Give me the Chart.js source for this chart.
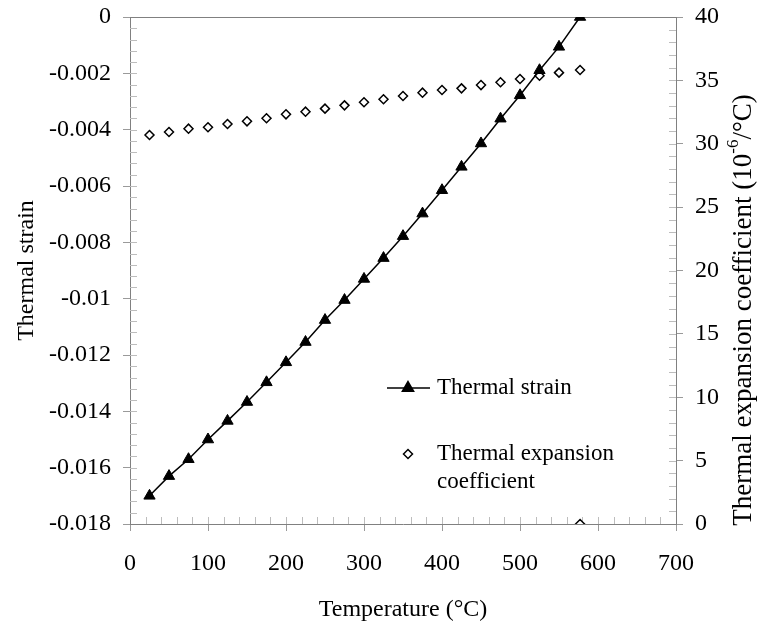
<!DOCTYPE html>
<html>
<head>
<meta charset="utf-8">
<script src="https://cdn.jsdelivr.net/npm/chart.js@4.4.1/dist/chart.umd.min.js"></script>
<style>
  html, body { margin: 0; padding: 0; background: #fff; }
  #wrap { position: relative; width: 761px; height: 628px; }
</style>
</head>
<body>
<div id="wrap"><canvas id="chart" width="761" height="628"></canvas></div>
<script>
// Temperatures (°C) at which strain and expansion coefficient are reported
const temperatures = [25, 50, 75, 100, 125, 150, 175, 200, 225, 250, 275, 300,
                      325, 350, 375, 400, 425, 450, 475, 500, 525, 550, 577];

// Thermal strain, referenced to zero at 577 °C
const thermalStrain = [-0.0170, -0.0163, -0.0157, -0.0150, -0.01434, -0.01367, -0.01297,
                       -0.01226, -0.01154, -0.01076, -0.01005, -0.00930, -0.00856, -0.00778,
                       -0.00698, -0.00615, -0.00532, -0.00449, -0.00361, -0.00278, -0.00189,
                       -0.00106, 0];

// Thermal expansion coefficient (10^-6 /°C)
const expansionCoef = [30.69, 30.93, 31.19, 31.30, 31.56, 31.77, 32.01, 32.32, 32.53, 32.77,
                       33.03, 33.27, 33.51, 33.77, 34.03, 34.24, 34.37, 34.63, 34.85, 35.11,
                       35.37, 35.61, 35.82];

// Coefficient point lying on the axis at the solidus temperature
const solidusTemp = [577];
const solidusCoef = [0];

// Tick values for the three axes
const tempTicks = [0, 100, 200, 300, 400, 500, 600, 700];
const strainTicks = [-0.018, -0.016, -0.014, -0.012, -0.01, -0.008, -0.006, -0.004, -0.002, 0];
const coefTicks = [0, 5, 10, 15, 20, 25, 30, 35, 40];

const seriesNames = ['Thermal strain', 'Thermal expansion coefficient'];

const SERIF = '"Liberation Serif", "Times New Roman", serif';
const AXIS_COLOR = '#808080';
const MAJOR_TICK = '#9a9a9a';
const MINOR_TICK = '#bdbdbd';

const strainPoints = temperatures.map((t, i) => ({ x: t, y: thermalStrain[i] }));
const coefPoints = temperatures.map((t, i) => ({ x: t, y: expansionCoef[i] }))
  .concat(solidusTemp.map((t, i) => ({ x: t, y: solidusCoef[i] })));

function fixedTicks(values) {
  return scale => { scale.ticks = values.map(v => ({ value: v })); };
}

function fmt(v) {
  const s = String(parseFloat(Number(v).toFixed(4)));
  return s === '-0' ? '0' : s;
}

// keep the plot box fixed: fixed scale thickness, no label overflow padding
function fitTo(size) {
  return s => {
    if (s.isHorizontal()) s.height = size; else s.width = size;
    s.paddingTop = 0; s.paddingBottom = 0; s.paddingLeft = 0; s.paddingRight = 0;
  };
}

// Frame, inward minor ticks, legend and right-hand axis title
const decorations = {
  id: 'decorations',
  beforeDatasetsDraw(chart) {
    const { ctx, chartArea: a, scales } = chart;
    ctx.save();
    ctx.lineWidth = 1;
    ctx.strokeStyle = MINOR_TICK;
    ctx.beginPath();
    // temperature axis: every 20 °C, pointing up into the plot
    for (let v = 20; v < 700; v += 20) {
      const x = Math.round(scales.x.getPixelForValue(v)) + 0.5;
      ctx.moveTo(x, a.bottom); ctx.lineTo(x, a.bottom - 7);
    }
    // strain axis: every 0.0004, pointing right into the plot
    for (let k = 1; k < 45; k++) {
      const y = Math.round(scales.y.getPixelForValue(-0.0004 * k)) + 0.5;
      ctx.moveTo(a.left, y); ctx.lineTo(a.left + 7, y);
    }
    // coefficient axis: every 1, pointing left into the plot
    for (let v = 1; v < 40; v++) {
      const y = Math.round(scales.y1.getPixelForValue(v)) + 0.5;
      ctx.moveTo(a.right, y); ctx.lineTo(a.right - 7, y);
    }
    ctx.stroke();
    // top edge of the frame
    ctx.strokeStyle = AXIS_COLOR;
    ctx.beginPath();
    ctx.moveTo(a.left, Math.round(a.top) + 0.5);
    ctx.lineTo(a.right, Math.round(a.top) + 0.5);
    ctx.stroke();
    ctx.restore();
  },
  afterDraw(chart) {
    const { ctx, chartArea: a } = chart;
    const ds = chart.data.datasets;
    ctx.save();
    // legend
    const lx = a.left + 257, ly = a.top + 371;
    ctx.strokeStyle = ds[0].borderColor;
    ctx.lineWidth = 1.5;
    ctx.beginPath();
    ctx.moveTo(lx, ly); ctx.lineTo(lx + 43, ly);
    ctx.stroke();
    Chart.helpers.drawPoint(ctx, {
      pointStyle: 'triangle', radius: ds[0].pointRadius, borderWidth: 1
    }, lx + 21, ly);
    ctx.fillStyle = '#fff';
    ctx.strokeStyle = '#000';
    ctx.lineWidth = 1.5;
    Chart.helpers.drawPoint(ctx, {
      pointStyle: 'rectRot', radius: ds[1].pointRadius, borderWidth: 1.5
    }, lx + 21, ly + 66);
    ctx.fillStyle = '#000';
    ctx.font = '23px ' + SERIF;
    ctx.textBaseline = 'middle';
    ctx.textAlign = 'left';
    ctx.fillText(seriesNames[0], lx + 50, ly);
    ctx.fillText('Thermal expansion', lx + 50, ly + 66);
    ctx.fillText('coefficient', lx + 50, ly + 94);

    // right axis title with superscript exponent
    const big = '27px ' + SERIF, small = '17px ' + SERIF;
    const parts = [
      { t: 'Thermal expansion coefficient (10', f: big, dy: 0 },
      { t: '-6', f: small, dy: -10 },
      { t: '/°C)', f: big, dy: 0 }
    ];
    let total = 0;
    parts.forEach(p => { ctx.font = p.f; p.w = ctx.measureText(p.t).width; total += p.w; });
    ctx.translate(a.right + 68, a.top + 293);
    ctx.rotate(-Math.PI / 2);
    ctx.textBaseline = 'middle';
    let x = -total / 2;
    parts.forEach(p => {
      ctx.font = p.f;
      ctx.fillText(p.t, x, p.dy);
      x += p.w;
    });
    ctx.restore();
  }
};

new Chart(document.getElementById('chart'), {
  type: 'scatter',
  data: {
    datasets: [
      {
        label: seriesNames[0],
        data: strainPoints,
        yAxisID: 'y',
        showLine: true,
        borderColor: '#000',
        borderWidth: 1.5,
        backgroundColor: '#000',
        pointStyle: 'triangle',
        pointRadius: 6.5,
        pointBorderWidth: 1,
        pointBorderColor: '#000',
        pointBackgroundColor: '#000',
        tension: 0
      },
      {
        label: seriesNames[1],
        data: coefPoints,
        yAxisID: 'y1',
        showLine: false,
        pointStyle: 'rectRot',
        pointRadius: 4.5,
        pointBorderWidth: 1.5,
        pointBorderColor: '#000',
        pointBackgroundColor: '#fff'
      }
    ]
  },
  options: {
    responsive: false,
    animation: false,
    events: [],
    layout: { padding: { top: 17, left: 0, right: 0, bottom: 0 } },
    plugins: { legend: { display: false }, tooltip: { enabled: false } },
    scales: {
      x: {
        type: 'linear',
        min: 0, max: 700,
        afterBuildTicks: fixedTicks(tempTicks),
        afterFit: fitTo(104),
        ticks: { color: '#000', font: { family: SERIF, size: 24 }, padding: 18,
                 callback: v => fmt(v) },
        grid: { drawOnChartArea: false, drawTicks: true, tickLength: 7, color: MAJOR_TICK },
        border: { color: AXIS_COLOR, width: 1 },
        title: { display: true, text: 'Temperature (°C)', color: '#000',
                 font: { family: SERIF, size: 24 }, padding: { top: 0, bottom: 4 } }
      },
      y: {
        type: 'linear',
        position: 'left',
        min: -0.018, max: 0,
        afterBuildTicks: fixedTicks(strainTicks),
        afterFit: fitTo(130),
        ticks: { color: '#000', font: { family: SERIF, size: 24 }, padding: 12,
                 callback: v => fmt(v) },
        grid: { drawOnChartArea: false, drawTicks: true, tickLength: 7, color: MAJOR_TICK },
        border: { color: AXIS_COLOR, width: 1 },
        title: { display: true, text: 'Thermal strain', color: '#000',
                 font: { family: SERIF, size: 24 }, padding: { top: 12, bottom: 0 } }
      },
      y1: {
        type: 'linear',
        position: 'right',
        min: 0, max: 40,
        afterBuildTicks: fixedTicks(coefTicks),
        afterFit: fitTo(85),
        ticks: { color: '#000', font: { family: SERIF, size: 24 }, padding: 12,
                 callback: v => fmt(v) },
        grid: { drawOnChartArea: false, drawTicks: true, tickLength: 7, color: MAJOR_TICK },
        border: { color: AXIS_COLOR, width: 1 }
      }
    }
  },
  plugins: [decorations]
});
</script>
</body>
</html>
